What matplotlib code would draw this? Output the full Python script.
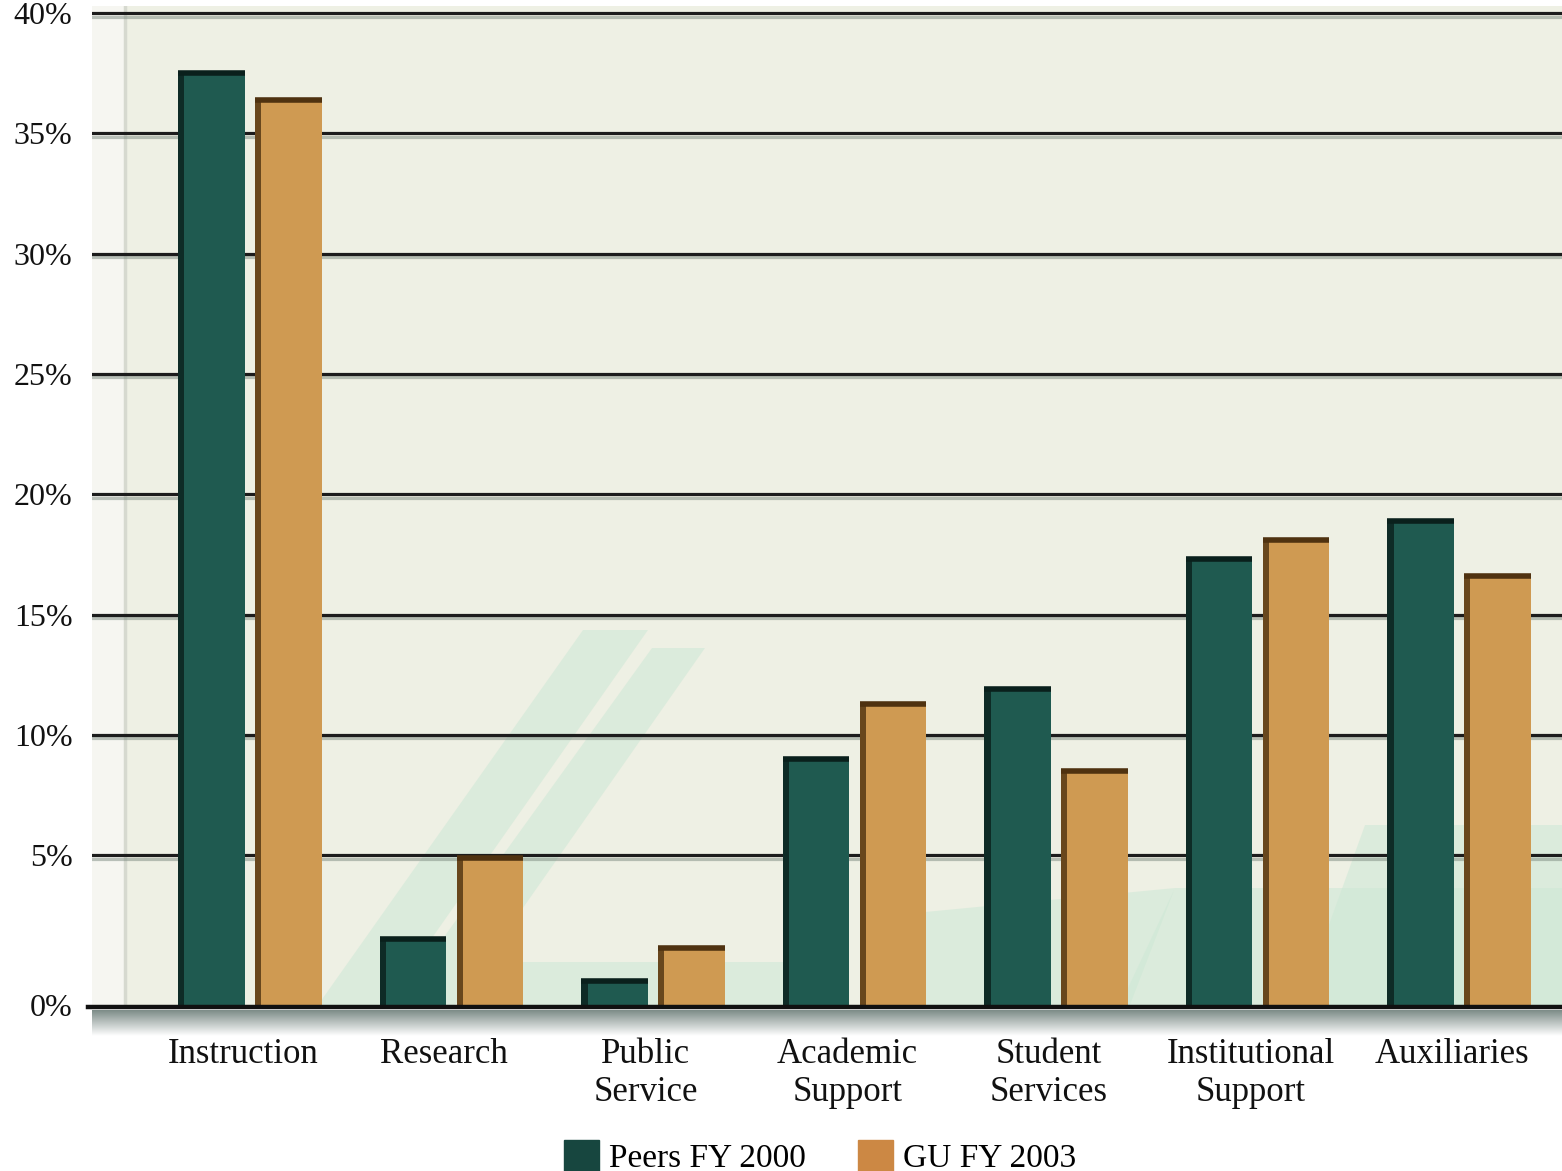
import numpy as np
import matplotlib
matplotlib.use("Agg")
import matplotlib.pyplot as plt
from matplotlib.patches import Polygon, Rectangle
from matplotlib import patheffects as pe

# ── Données ──────────────────────────────────────────────────────────────────
CATEGORIES = ["Instruction", "Research", "Public\nService", "Academic\nSupport",
              "Student\nServices", "Institutional\nSupport", "Auxiliaries"]
PEERS_2000 = [37.5, 2.2, 0.8, 9.0, 11.9, 17.3, 18.9]
GU_2003    = [36.4, 4.9, 1.9, 11.3, 8.5, 18.1, 16.6]
Y_TICKS    = [0, 5, 10, 15, 20, 25, 30, 35, 40]
Y_LABELS   = [f"{t}%" for t in Y_TICKS]

SERIES_NAMES = ["Peers FY 2000", "GU FY 2003"]
TEAL, TEAL_DARK = "#1f5a50", "#0a201c"
TAN, TAN_DARK   = "#cf9a52", "#4f3210"
LEG_TEAL, LEG_TAN = "#17463f", "#cc8844"

FONT = ["Liberation Serif", "DejaVu Serif"]
W, H = 1562, 1171

# plancher 3D : la tranche 0-5 % est plus haute que les autres
K = 1.247
def fwd(v):
    v = np.asarray(v, dtype=float)
    return np.where(v < 5, v * K, v + 5 * K - 5)

def inv(u):
    u = np.asarray(u, dtype=float)
    return np.where(u < 5 * K, u / K, u - 5 * K + 5)

def px(x, y):
    """pixels image -> fraction figure"""
    return (x / W, 1 - y / H)

fig = plt.figure(figsize=(W / 100, H / 100), dpi=100, facecolor="white")
ax = fig.add_axes([92 / W, 1 - 1005 / H, 1 - 92 / W, (1005 - 6) / H])
ax.set_facecolor("#eef0e4")
ax.set_yscale("function", functions=(fwd, inv))
ax.set_ylim(0, 40.3)
ax.set_xlim(-0.784, 6.511)

# mur latéral à gauche
ax.add_patch(Rectangle((0, 0), 0.0224, 1, transform=ax.transAxes,
                       facecolor="#f6f6f1", edgecolor="none", zorder=0.3))
ax.axvline(-0.784 + 0.0224 * 7.295, color="#d6d9cf", lw=2.5, zorder=0.35)

# bandes décoratives vert menthe
bands = [
    [(583, 630), (648, 630), (385, 1005), (318, 1005)],
    [(652, 648), (705, 648), (455, 1005), (395, 1005)],
    [(515, 962), (790, 962), (790, 1005), (505, 1005)],
    [(925, 912), (1175, 888), (1130, 1005), (880, 1005)],
    [(1175, 888), (1562, 888), (1562, 1005), (1120, 1005)],
    [(1365, 825), (1562, 825), (1562, 1005), (1300, 1005)],
]
for b in bands:
    ax.add_patch(Polygon([px(*p) for p in b], closed=True, transform=fig.transFigure,
                         facecolor="#cde8d6", edgecolor="none", alpha=0.55, zorder=0.4))

# grille
shadow = [pe.SimpleLineShadow(offset=(0, -2.5), shadow_color="#7c8a80", alpha=0.5),
          pe.Normal()]
for t in Y_TICKS[1:]:
    ax.axhline(t, color="#1c1c1c", lw=2.3, zorder=0.6, path_effects=shadow)

# barres
x = np.arange(len(CATEGORIES))
bw, off, edge = 0.33, 0.19, 0.03
for vals, dx, body, dark in [(PEERS_2000, -off, TEAL, TEAL_DARK),
                             (GU_2003, off, TAN, TAN_DARK)]:
    ax.bar(x + dx, vals, width=bw, color=body, edgecolor="none", zorder=2)
    ax.bar(x + dx - bw / 2 + edge / 2, vals, width=edge, color=dark,
           edgecolor="none", alpha=0.8, zorder=2.1)
    ax.hlines(vals, x + dx - bw / 2, x + dx + bw / 2, color=dark, lw=4, zorder=2.2)

# axes
for s in ax.spines.values():
    s.set_visible(False)
ax.set_yticks(Y_TICKS)
ax.set_yticklabels(Y_LABELS, fontsize=23, family=FONT, color="#111")
ax.tick_params(axis="y", length=0, pad=14)
ax.set_xticks(x - 0.035)
ax.set_xticklabels(CATEGORIES, fontsize=25, family=FONT, color="#111", linespacing=1.2)
ax.tick_params(axis="x", length=0, pad=24)
ax.yaxis.set_minor_locator(matplotlib.ticker.NullLocator())

# plancher + ombre portée
fig.add_artist(plt.Line2D([88 / W, 1.0], [1 - 1007 / H] * 2, color="#111",
                          lw=3.2, transform=fig.transFigure))
grad = np.linspace(0, 1, 64)[:, None]
sh = fig.add_axes([92 / W, 1 - 1036 / H, 1 - 92 / W, 26 / H], zorder=-1)
sh.imshow(grad, aspect="auto", cmap=matplotlib.colors.LinearSegmentedColormap.from_list(
    "sh", ["#7d8c88", "#ffffff"]), extent=(0, 1, 0, 1), origin="upper")
sh.axis("off")

# légende
handles = [Rectangle((0, 0), 1, 1, color=LEG_TEAL), Rectangle((0, 0), 1, 1, color=LEG_TAN)]
fig.legend(handles, SERIES_NAMES, loc="upper center", bbox_to_anchor=(0.525, 1 - 1140 / H),
           ncol=2, frameon=False, borderpad=0, borderaxespad=0,
           prop={"family": FONT, "size": 24}, handlelength=1.06, handleheight=1.06,
           handletextpad=0.3, columnspacing=1.55)

fig.savefig("out.png", dpi=100, facecolor="white")
